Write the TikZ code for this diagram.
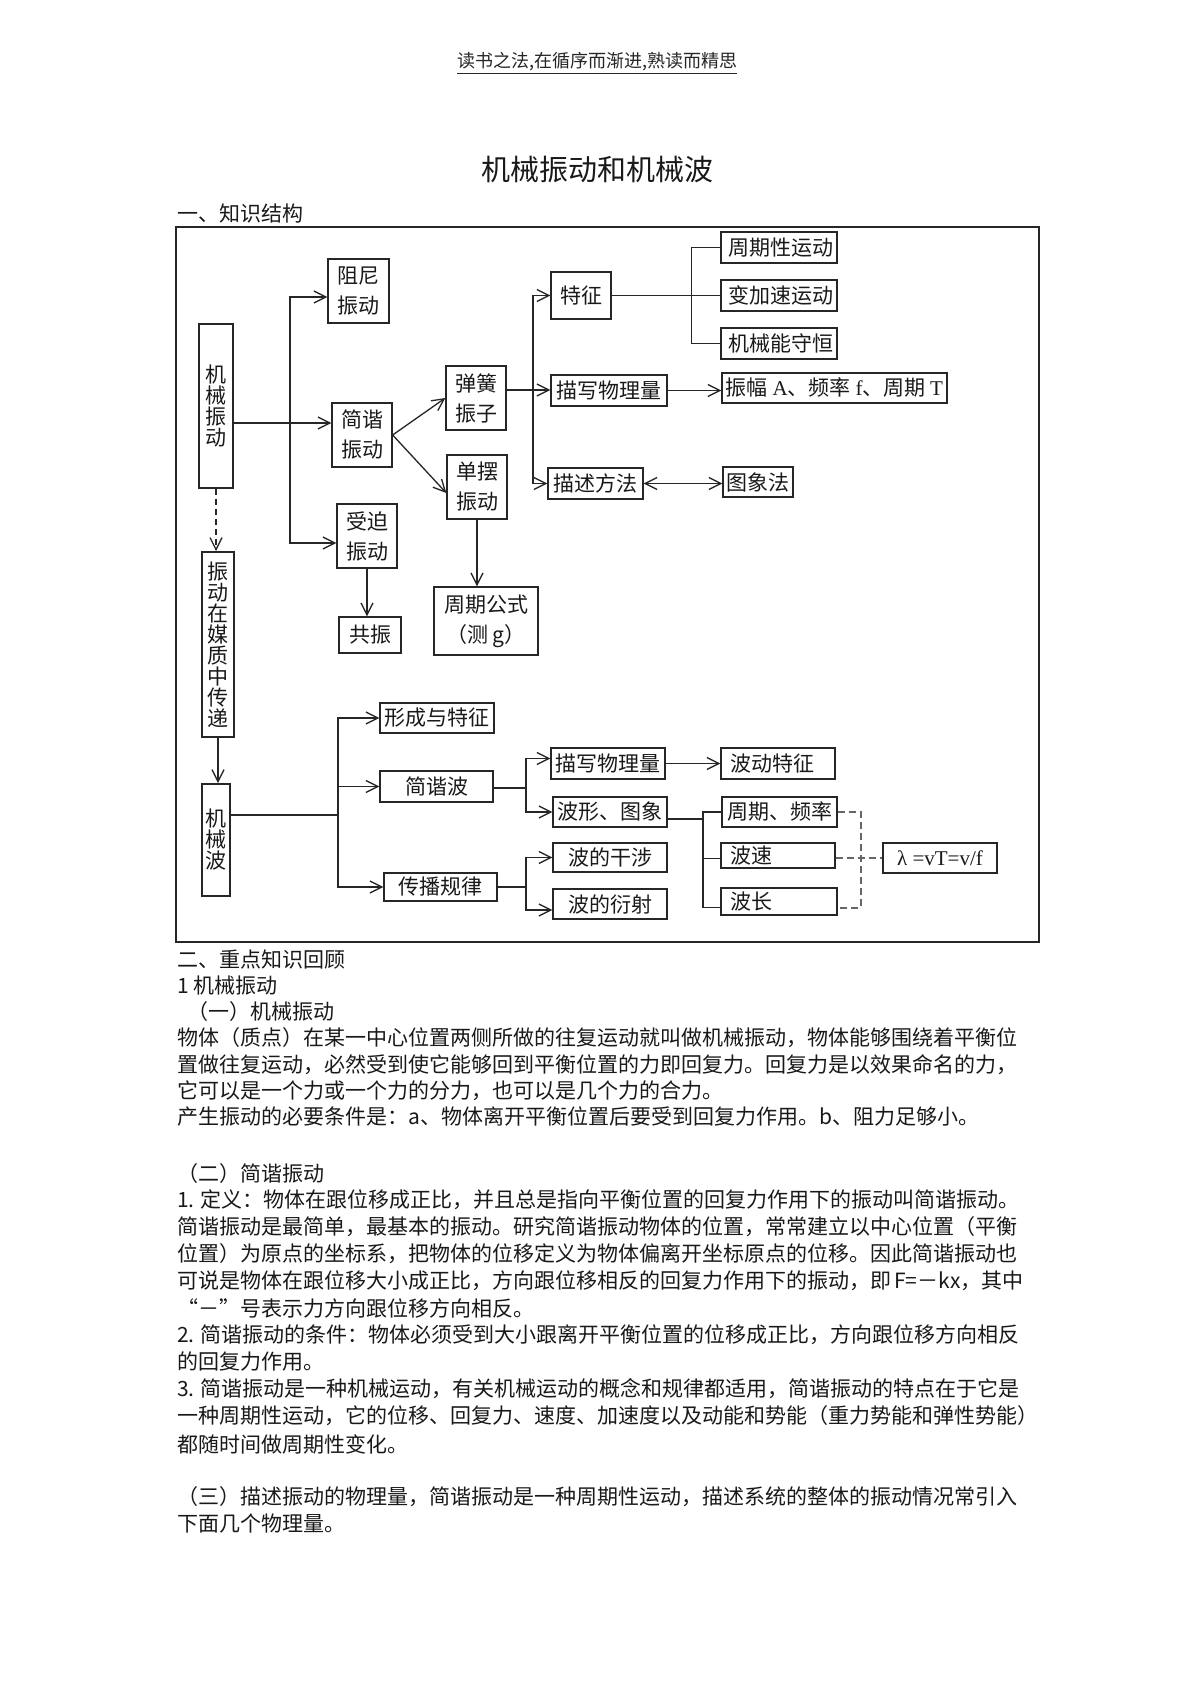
\documentclass[tikz,border=0pt]{standalone}
\usepackage{fontspec}
\setmainfont{Noto Sans CJK SC}
\newfontfamily\lserif{Liberation Serif}
\usetikzlibrary{arrows.meta}
\XeTeXlinebreaklocale "zh"
\XeTeXlinebreakskip=0pt plus 2pt minus 0.4pt
\newcommand\mydiafont{\fontsize{21}{30}\selectfont}
\newcommand\myvertfont{\fontsize{21}{21}\selectfont}
\newcommand\mybodyfont{\fontsize{21}{27}\selectfont}
\newcommand\jl[1]{\makebox[841pt][s]{#1}}
\begin{document}
\begin{tikzpicture}[x=1pt,y=-1pt,
  ln/.style={line width=1.3pt, draw=black!85},
  arr/.style={ln, -{Straight Barb[length=12pt,width=12pt]}},
  arrtwo/.style={ln, {Straight Barb[length=12pt,width=12pt]}-{Straight Barb[length=12pt,width=12pt]}},
  dsh/.style={line width=2pt, draw=black!60, dash pattern=on 7pt off 4pt},
  vdash/.style={dash pattern=on 6pt off 4pt},
  bx/.style 2 args={draw=black!85, line width=1.3pt, inner sep=0pt, align=center, font=\mydiafont, text=black!90, minimum width=#1pt, minimum height=#2pt},
  lbx/.style 2 args={draw=black!85, line width=1.3pt, inner ysep=0pt, inner xsep=9pt, align=left, font=\mydiafont, text=black!90, text width=#1pt, minimum height=#2pt},
  vbx/.style 2 args={draw=black!85, line width=1.3pt, inner sep=0pt, align=center, font=\myvertfont, text=black!90, minimum width=#1pt, minimum height=#2pt},
  txt/.style={anchor=west, inner sep=0pt, font=\mybodyfont, text=black!90}]
\useasboundingbox (0,0) rectangle (1191,1685);
\fill[white] (0,0) rectangle (1191,1685);

% headings
\node[font=\fontsize{18}{18}\selectfont, text=black!85] (hdr) at (597,63) {\underline{读书之法,在循序而渐进,熟读而精思}};
\node[font=\fontsize{29}{29}\selectfont, text=black!90] (title) at (597,169) {机械振动和机械波};
\node[txt] (sec1) at (177,214) {一、知识结构};

% frame
\node[draw=black!85, line width=1.8pt, inner sep=0pt, minimum width=863pt, minimum height=715pt] (frame) at (607.5,584.5) {};

% part 1 nodes
\node[vbx={34}{164}] (jxzd) at (216,406) {机\\械\\振\\动};
\node[bx={61}{64}] (zuni) at (358.5,291) {阻尼\\振动};
\node[bx={60}{64}] (jianxie) at (362,435) {简谐\\振动};
\node[bx={60}{64}] (shoupo) at (367,536) {受迫\\振动};
\node[bx={62}{36}] (gongzhen) at (370,635) {共振};
\node[bx={60}{64}] (tanhuang) at (476,398) {弹簧\\振子};
\node[bx={60}{64}] (danbai) at (477,487) {单摆\\振动};
\node[bx={104}{68}] (zqgs) at (486,621) {周期公式\\（测 g）};
\node[bx={60}{47}] (tezheng) at (581,295.5) {特征};
\node[bx={116}{31}] (mxwl) at (609,390.5) {描写物理量};
\node[bx={95}{31}] (msff) at (595.5,483.5) {描述方法};
\node[bx={116}{31}] (zqx) at (779,247.5) {\ 周期性运动};
\node[bx={116}{31}] (bjs) at (779,295.5) {\ 变加速运动};
\node[bx={116}{31}] (jxn) at (779,343.5) {\ 机械能守恒};
\node[bx={225}{30}] (zf) at (834.5,388) {振幅 {\lserif A}、频率 {\lserif f}、周期 {\lserif T}};
\node[bx={70}{30}] (txf) at (758,482) {图象法};

% part 2 nodes
\node[vbx={32}{185}, line width=2pt] (zdcd) at (218,644.5) {振\\动\\在\\媒\\质\\中\\传\\递};
\node[vbx={28}{112}, line width=2pt] (jxb) at (216,840) {机\\械\\波};
\node[bx={114}{30}] (xcyt) at (437,718) {形成与特征};
\node[bx={113}{31}] (jxbo) at (436.5,786.5) {简谐波};
\node[bx={113}{28}] (cbgl) at (440.5,887) {传播规律};
\node[bx={114}{31}] (mxwl2) at (608,763.5) {描写物理量};
\node[lbx={96}{31}] (bdtz) at (778,763.5) {波动特征};
\node[bx={114}{30}] (bxtx) at (610,812) {波形、图象};
\node[bx={115}{30}] (zqpl) at (779.5,812) {周期、频率};
\node[lbx={96}{25}] (bosu) at (778,855.5) {波速};
\node[lbx={98}{27}] (bochang) at (779,901.5) {波长};
\node[bx={114}{30}, font=\fontsize{21}{21}\lserif] (lambda) at (940,858) {λ =vT=v/f};
\node[bx={114}{29}] (bdgs) at (610,857.5) {波的干涉};
\node[bx={114}{30}] (bdys) at (610,904) {波的衍射};

% junctions
\coordinate (jA) at (290,423);
\coordinate (jB) at (533,390);
\coordinate (jC) at (338,815);
\coordinate (jD) at (526,788);
\coordinate (jE) at (703,819);
\coordinate (jF) at (526,887);

% part 1 connectors
\draw[arr] (jxzd.east |- jA) -- (jianxie.west |- jA);
\draw[arr] (jA) |- ([yshift=-6pt]zuni.west);
\draw[arr] (jA) |- ([yshift=-7pt]shoupo.west);
\draw[arr] (shoupo.south) -- (shoupo.south |- gongzhen.north);
\draw[arr] (jianxie.east) -- (tanhuang.west);
\draw[arr] (jianxie.east) -- ([yshift=-6pt]danbai.west);
\draw[arr] (danbai.south) -- (danbai.south |- zqgs.north);
\draw[ln] (tanhuang.east |- jB) -- (jB);
\draw[arr] (jB) |- (tezheng.west);
\draw[arr] (jB) -- (mxwl.west |- jB);
\draw[arr] (jB) |- (msff.west);
\draw[ln] (tezheng.east) -- (bjs.west);
\draw[ln] (zqx.west) -- ++(-29,0) |- (jxn.west);
\draw[arr] (mxwl.east) -- (zf.west |- mxwl.east);
\draw[arrtwo] (msff.east) -- (txf.west |- msff.east);
\draw[arr, vdash] (jxzd.south) -- (jxzd.south |- zdcd.north);
\draw[arr] (zdcd.south) -- (zdcd.south |- jxb.north);

% part 2 connectors
\draw[ln] (jxb.east |- jC) -- (jC);
\draw[arr] (jC) |- (xcyt.west);
\draw[arr] (jC) |- (jxbo.west);
\draw[arr] (jC) |- (cbgl.west);
\draw[ln] (jxbo.east |- jD) -- (jD);
\draw[arr] (jD) |- ([yshift=5pt]mxwl2.west);
\draw[arr] (jD) |- (bxtx.west);
\draw[arr] (mxwl2.east) -- (bdtz.west);
\draw[ln] (bxtx.east |- jE) -- (jE);
\draw[ln] (zqpl.west) -| (jE) |- ([yshift=-6pt]bochang.west);
\draw[ln] ([yshift=-3pt]bosu.west) -- ++(-18,0);
\draw[dsh] (zqpl.east) -- ++(23,0) |- ([yshift=-6pt]bochang.east);
\draw[dsh] (bosu.east |- lambda.west) -- (lambda.west);
\draw[ln] (cbgl.east |- jF) -- (jF);
\draw[arr] (jF) |- (bdgs.west);
\draw[arr] (jF) |- ([yshift=-6pt]bdys.west);

% body text
\node[txt] (t1) at (177,960) {二、重点知识回顾};
\node[txt] (t2) at (177,986) {1 机械振动};
\node[txt] (t3) at (187,1012) {（一）机械振动};
\node[txt] (t4) at (177,1038) {\jl{物体（质点）在某一中心位置两侧所做的往复运动就叫做机械振动，物体能够围绕着平衡位}};
\node[txt] (t5) at (177,1065) {\jl{置做往复运动，必然受到使它能够回到平衡位置的力即回复力。回复力是以效果命名的力，}};
\node[txt] (t6) at (177,1091) {它可以是一个力或一个力的分力，也可以是几个力的合力。};
\node[txt] (t7) at (177,1117) {产生振动的必要条件是：a、物体离开平衡位置后要受到回复力作用。b、阻力足够小。};
\node[txt] (t8) at (177,1174) {（二）简谐振动};
\node[txt] (t9) at (177,1200) {\jl{1. 定义：物体在跟位移成正比，并且总是指向平衡位置的回复力作用下的振动叫简谐振动。}};
\node[txt] (t10) at (177,1227) {\jl{简谐振动是最简单，最基本的振动。研究简谐振动物体的位置，常常建立以中心位置（平衡}};
\node[txt] (t11) at (177,1254) {\jl{位置）为原点的坐标系，把物体的位移定义为物体偏离开坐标原点的位移。因此简谐振动也}};
\node[txt] (t12) at (177,1281) {\jl{可说是物体在跟位移大小成正比，方向跟位移相反的回复力作用下的振动，即 F=－kx，其中}};
\node[txt] (t13) at (177,1308) {“－”号表示力方向跟位移方向相反。};
\node[txt] (t14) at (177,1335) {\jl{2. 简谐振动的条件：物体必须受到大小跟离开平衡位置的位移成正比，方向跟位移方向相反}};
\node[txt] (t15) at (177,1362) {的回复力作用。};
\node[txt] (t16) at (177,1389) {\jl{3. 简谐振动是一种机械运动，有关机械运动的概念和规律都适用，简谐振动的特点在于它是}};
\node[txt] (t17) at (177,1416) {\jl{一种周期性运动，它的位移、回复力、速度、加速度以及动能和势能（重力势能和弹性势能）}};
\node[txt] (t18) at (177,1444) {都随时间做周期性变化。};
\node[txt] (t19) at (177,1497) {\jl{（三）描述振动的物理量，简谐振动是一种周期性运动，描述系统的整体的振动情况常引入}};
\node[txt] (t20) at (177,1524) {下面几个物理量。};
\end{tikzpicture}
\end{document}
